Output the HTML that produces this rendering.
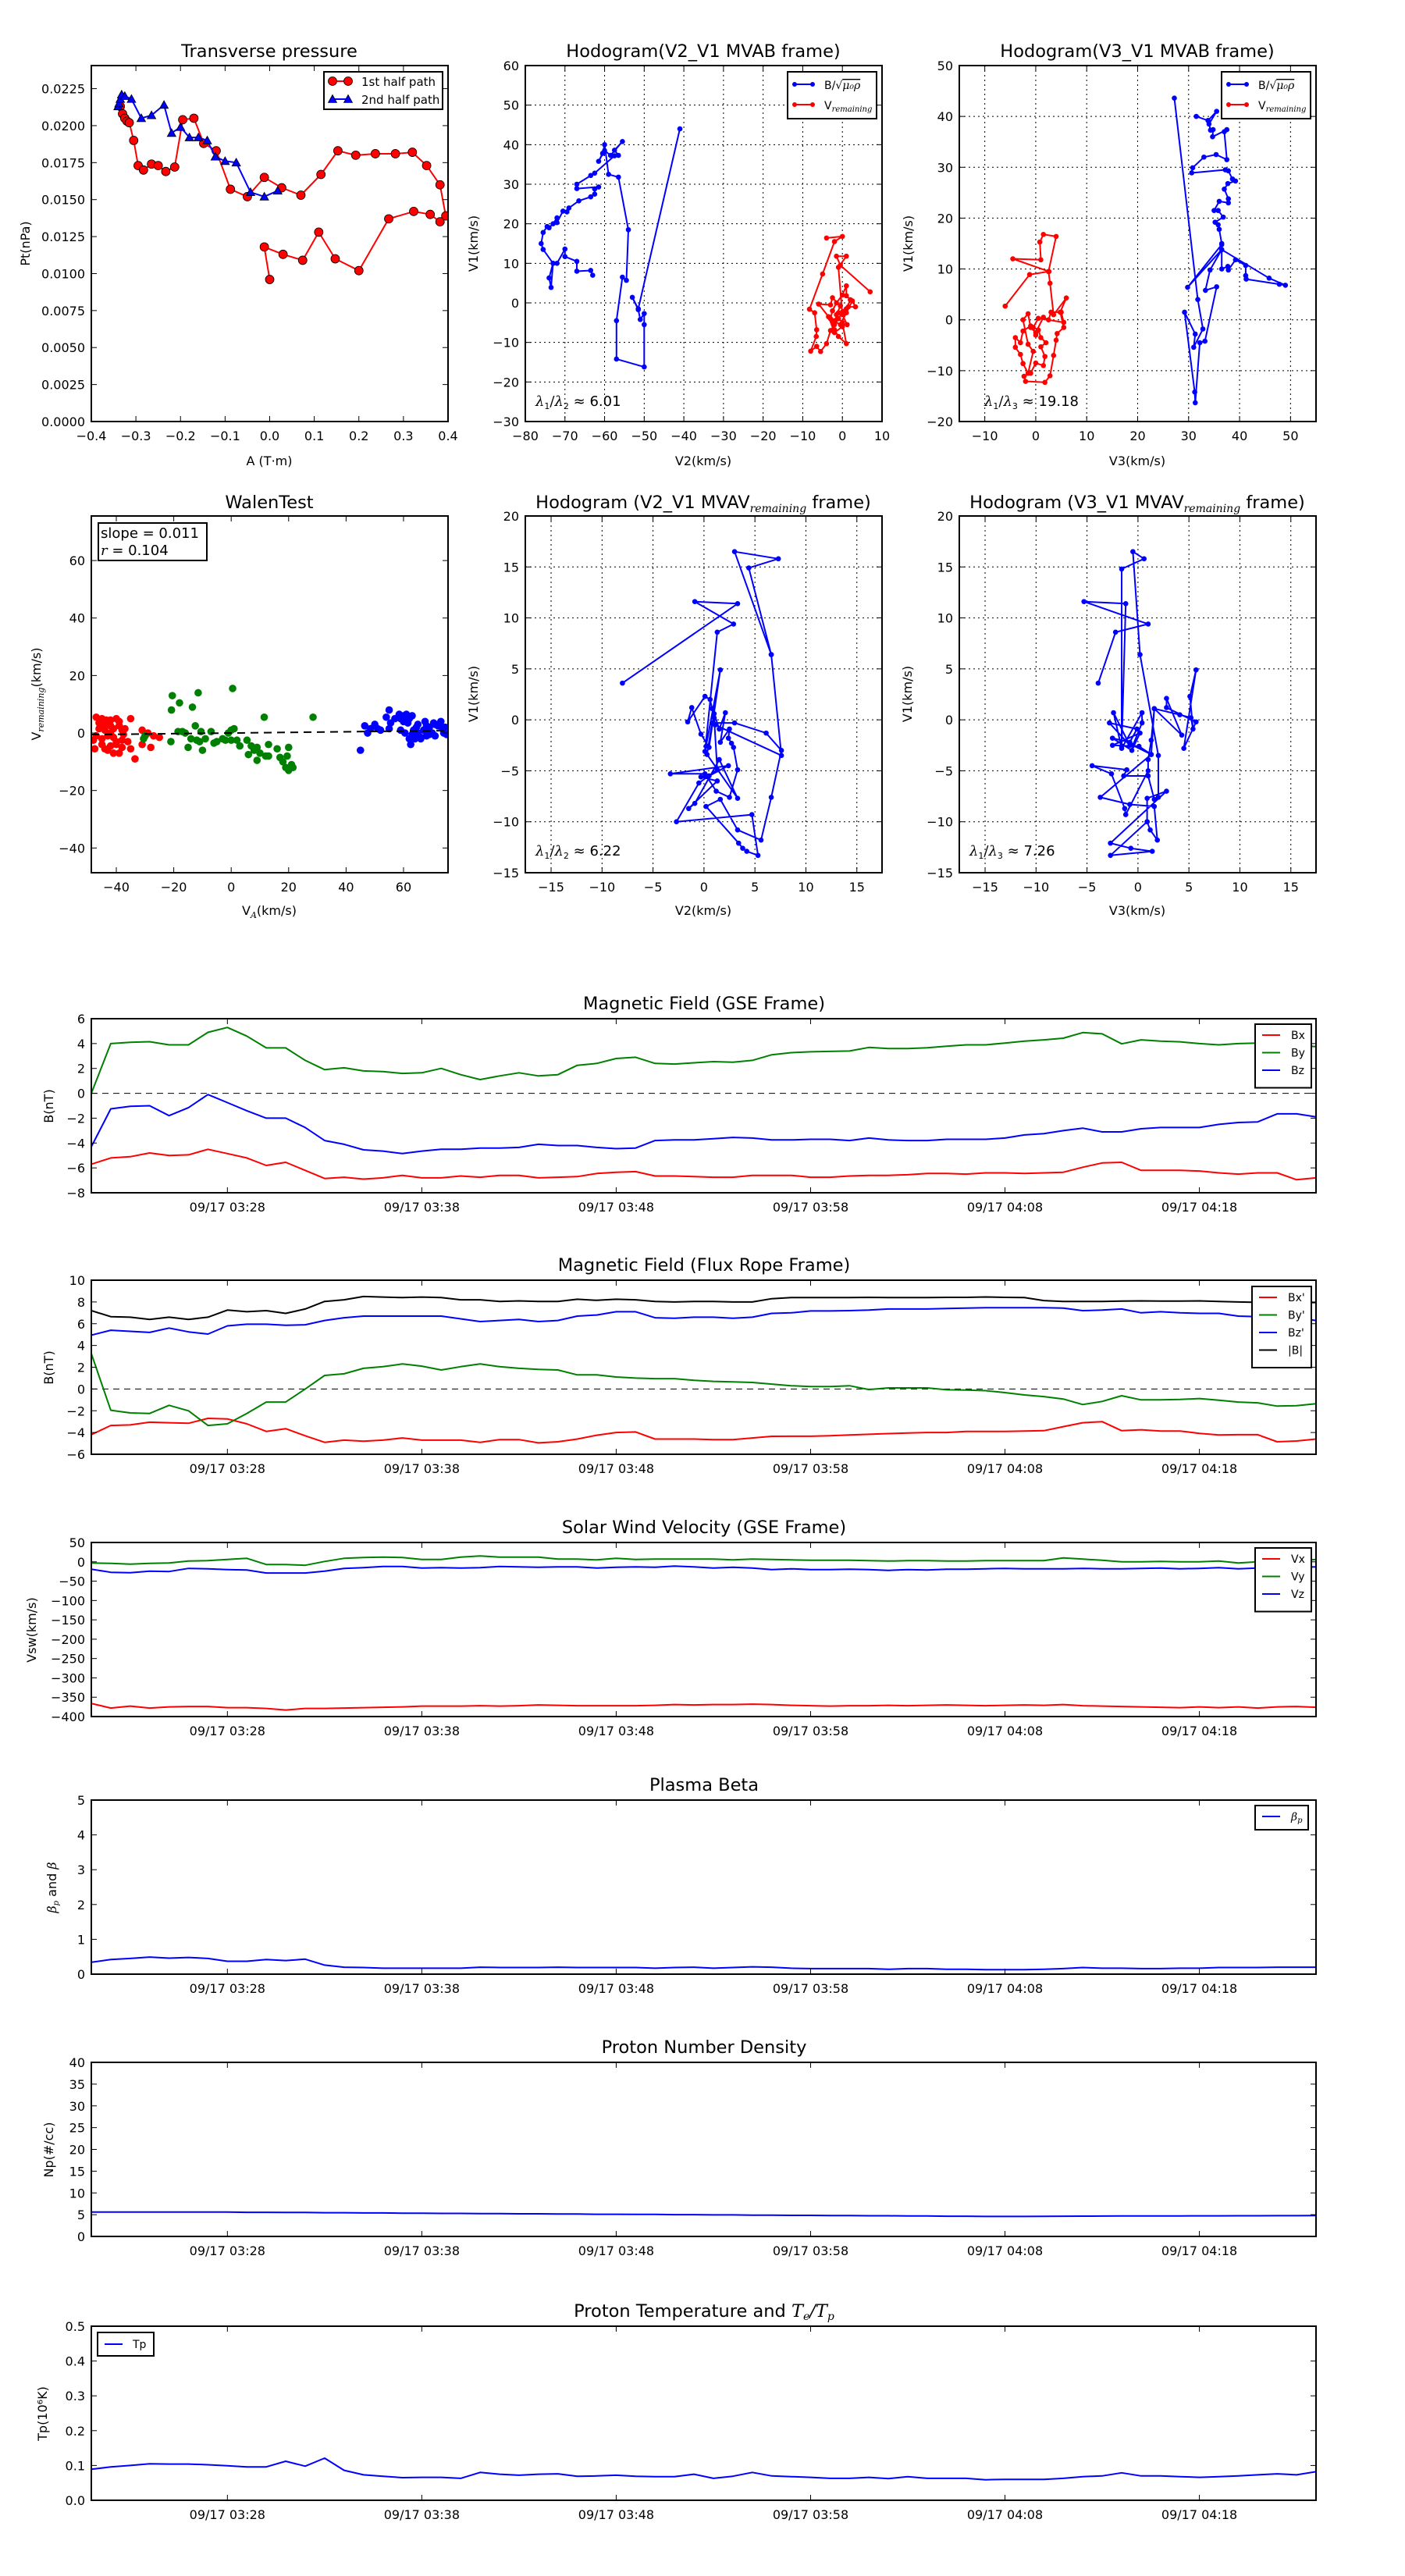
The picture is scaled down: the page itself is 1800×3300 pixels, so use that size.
<!DOCTYPE html>
<html><head><meta charset="utf-8"><title>Flux rope analysis</title>
<style>
html,body{margin:0;padding:0;background:#fff;}
svg{display:block;font-family:"DejaVu Sans","Liberation Sans",sans-serif;}
</style></head>
<body>
<svg id="fig" xmlns="http://www.w3.org/2000/svg" width="1800" height="3300" viewBox="0 0 1800 3300">
<rect x="0" y="0" width="1800" height="3300" fill="#fff"/>
</svg>
<script>
// ---------- data: transverse pressure ----------
const ptRedA = [-0.335,-0.33,-0.325,-0.32,-0.315,-0.305,-0.295,-0.283,-0.265,-0.25,-0.233,-0.213,-0.195,-0.17,-0.148,-0.12,-0.088,-0.05,-0.012,0.027,0.07,0.115,0.153,0.193,0.237,0.282,0.32,0.352,0.382,0.395,0.382,0.36,0.323,0.267,0.2,0.147,0.11,0.074,0.03,-0.012,0.0];
const ptRedP = [0.0213,0.0208,0.0205,0.0203,0.0202,0.019,0.0173,0.017,0.0174,0.0173,0.0169,0.0172,0.0204,0.0205,0.0188,0.0183,0.0157,0.0152,0.0165,0.0158,0.0153,0.0167,0.0183,0.018,0.0181,0.0181,0.0182,0.0173,0.016,0.0139,0.0135,0.014,0.0142,0.0137,0.0102,0.011,0.0128,0.0109,0.0113,0.0118,0.0096];
const ptBlueA = [-0.34,-0.338,-0.335,-0.332,-0.325,-0.31,-0.288,-0.265,-0.237,-0.22,-0.2,-0.18,-0.16,-0.14,-0.122,-0.1,-0.075,-0.043,-0.012,0.018];
const ptBlueP = [0.0213,0.0215,0.0218,0.0221,0.022,0.0218,0.0205,0.0207,0.0214,0.0195,0.0199,0.0192,0.0192,0.019,0.0179,0.0176,0.0175,0.0155,0.0152,0.0156];
const ptXTicks = [-0.4,-0.3,-0.2,-0.1,0,0.1,0.2,0.3,0.4];
const ptXLabels = ['−0.4','−0.3','−0.2','−0.1','0.0','0.1','0.2','0.3','0.4'];
const ptYTicks = [0,0.0025,0.005,0.0075,0.01,0.0125,0.015,0.0175,0.02,0.0225];
const ptYLabels = ['0.0000','0.0025','0.0050','0.0075','0.0100','0.0125','0.0150','0.0175','0.0200','0.0225'];
// ---------- data: hodogram V2-V1 MVAB ----------
const h1BlueV2 = [-63,-63.5,-67,-67,-70,-70,-72,-73,-74,-73.5,-73,-75.5,-76,-75.5,-74.5,-74,-73,-72,-72,-70.5,-69.5,-69,-66.5,-63.5,-62.5,-62.5,-61.5,-67,-67,-63.5,-62.5,-57.5,-56.5,-57.5,-55.5,-58.5,-60,-61.5,-60.5,-60,-59,-56.5,-54,-54.5,-55.5,-57,-57,-50,-50,-50,-51,-51.5,-53,-51.5,-41];
const h1BlueV1 = [7,8.2,8,10.5,11.7,13.6,10,10,6.3,3.9,10,13.5,15,17.8,19.3,19,20,21.5,20.3,23.2,23,24,25.8,26.8,27.5,28.8,29.3,28.9,30,32.2,32.8,37.2,37.3,38.6,40.8,37.3,38.5,35.8,37.8,40,32.5,31.8,18.5,5.7,6.5,-4.5,-14.2,-16.2,-5.5,-2.7,-4.2,-1.7,1.4,-1.5,44];
const h1RedV2 = [-4,0,-2,-5,-8.3,-7,-6.5,-6.6,-8,-6.5,-5.5,-4,-3,-2,-1,0,1,2,1,1,0,-1.5,-2.5,-3,-2,-1,1,0,-1.5,-0.5,-2.5,-3,-6,-3.5,-2,0,-2,-1,1.5,3.3,2.5,1,-0.5,1.2,0,-1,1,-1.5,-0.5,7];
const h1RedV1 = [16.4,16.8,15.5,7.3,-1.6,-2.5,-6.8,-8.5,-12.2,-11,-12.3,-10.3,-7,-5.5,-4,-2.3,-1.5,0.8,1.8,4.3,2,0,-2,-4,-6.8,-8.5,-10.3,-5,-3,-0.8,1.3,-0.5,-0.3,-3.5,-7.5,-6,-4.5,-2.5,-1,-1,0.5,-2.5,-5.5,-5.5,-3,9,11.8,11.8,9.5,2.8];
// ---------- data: hodogram V3-V1 MVAB ----------
const h2BlueV3 = [27.2,31.8,32.8,31,31.3,29.2,31.2,31.3,32.2,33.2,35.5,33.3,34.2,36.5,29.8,36.5,36.5,37.7,37.8,39.2,41.2,41.2,41.3,47.8,49,45.8,36.5,36.5,36,35.8,35.2,36.8,35.8,35,36,37.8,37.8,37,37.7,39.2,38.6,37.8,37.2,30.6,30.8,33,35.4,37.5,37,37.5,34.7,34.8,34.3,34,35.5,33.8,31.5];
const h2BlueV1 = [43.6,4,-1.8,-5.4,-2.8,1.5,-14.2,-16.3,-4.5,-4.2,6.5,5.8,9.8,13.8,6.4,14.8,10,10.5,9.8,11.8,10.7,8.7,8,7,6.8,8.2,13.8,15,17.8,18.7,19.2,20.2,21.5,21.5,23.3,23,23.8,25.7,26.8,27.3,27.7,29.3,29.5,28.9,29.9,32,32.5,31.5,37,37.4,36,37.4,37.3,38.5,41,39.2,40];
const h2RedV3 = [-6,-1.2,2.6,-4.5,1,0.8,1.5,4,2.5,2.8,3.5,6,4.8,5.5,4.2,4,3.5,2.8,1.8,-2,-2.3,-1,0,1.5,1.8,1,2,1,0.5,-1,-2.5,-3,-4,-4,-3,-2.5,-1.5,-0.5,-1.5,-2.5,-1.5,-1,0,1.5,2.5,3,5,5.5,0.5,-0.5,0];
const h2RedV1 = [2.7,8.9,9.5,12,11.8,15.3,16.8,16.4,9.5,7.2,1,4.3,1.5,-1.5,-2.7,-4,-7,-11,-12.3,-12.1,-11.1,-10.5,-8.5,-9,-7.2,-5.3,-4.5,-3.5,-2,-1.2,-2.2,-4.5,-3.5,-5.4,-6.8,-8.6,-10.5,-6.2,-4.8,0,1.2,-1.5,-2.5,0.5,0,1.5,1.5,-0.5,0.3,-1.5,-3];
const h1XTicks = [-80,-70,-60,-50,-40,-30,-20,-10,0,10];
const h1YTicks = [-30,-20,-10,0,10,20,30,40,50,60];
const h2XTicks = [-10,0,10,20,30,40,50];
const h2YTicks = [-20,-10,0,10,20,30,40,50];
// ---------- data: Walen test ----------
const walRedX = [-47,-45,-43.5,-42,-40,-44,-42,-46,-44,-41,-39,-38,-47,-45,-43,-41,-40,-38,-37.5,-48,-47.5,-45,-42,-41,-39,-38,-36,-35,-35,-33.5,-31,-31,-30,-29,-28,-27,-25,-44,-43,-40,-46,-39,-37,-42];
const walRedY = [5.5,5,4.5,4.5,5,3,2.5,1.5,1,1.5,2.5,1,-1,-2,-1,-1.5,-3,-2.5,-0.5,-2.5,-5.5,-4,-4.5,-7,-7,-5,-3,5,-5.5,-9,-4,1,-1,0,-5,-1,-1.5,-5.5,-6,-4,3.5,4,1.5,0];
const walGreenX = [-20.5,-20.8,-18,-13.5,-11.5,0.5,-21,-18.5,-17,-16,-15,-14,-12.5,-12,-11,-10.5,-10,-9,-7,-6,-5,-3,-2,-1,0,0,1,2,3,5.5,6,7,8,9,9,10,11.5,12,13,13,16,17,18,19,19.5,20,20,21,21.5,28.5,-30,-30.5];
const walGreenY = [13,8,10.5,9,14,15.5,-3,0.5,0.5,0,-5,-2,2.5,-2.5,-3,0.5,-6,-2,0.5,-3.5,-3,-2,-2.5,0,-2.5,1,1.5,-2.5,-4.5,-2.5,-7.5,-4.5,-6,-9.5,-5,-7,5.5,-8,-4,-8,-5.5,-8.5,-10,-12,-8,-5,-13,-11,-12,5.5,-1,-2];
const walBlueX = [45,46.5,47.5,48.5,50,51,52,54,55,55.5,55,58.5,59,60,60.5,61,61.5,62,62.5,63,63.5,64,64.5,65,66,67,67.5,68,69,70,70.5,71,72,73,73.5,74,75,60,62,65,66,68,71,74.5,63,59,57,69];
const walBlueY = [-6,2.5,0,1.5,3,1.5,1,5.5,8,3.5,1.5,6.5,5,4,0,6.5,3.5,-2,-4,6,1,-2,2,0,-1.5,1,4,-1,2,0,3.5,-1,2.5,4,1.5,0,-0.5,6,5,3,-2,2.5,3,2,-0.5,1,5,-0.5];
const walSlope = [0.011];
const walTicks = [-40,-20,0,20,40,60];
// ---------- data: hodograms MVAV ----------
const h3V2 = [-8,3.3,-0.9,2.9,1.3,0.1,0.2,1.6,0.5,-0.3,-1.2,-1.6,0.1,0.6,0.8,1.0,1.5,2.1,1.6,2.5,2.4,2.7,2.9,3.3,2.5,1.2,0.1,-3.3,2.4,0.5,-0.3,1.3,-1.5,-0.9,1.5,3.3,0.3,0.8,3.0,6.1,7.6,6.6,5.6,3.3,1.6,0.2,3.4,3.8,4.2,5.3,4.7,-2.7,-0.5,1.3,1.0,1.1,7.6,6.6,4.4,7.3,3.0,6.6];
const h3V1 = [3.6,11.4,11.6,9.4,8.6,-3.1,-2.6,4.9,-2.7,-1.4,1.2,-0.2,2.3,2.0,1.1,0.6,-0.9,0.7,-2.2,-0.9,-1.8,-2.3,-2.7,-4.9,-7.6,-7,-5.3,-5.3,-4.5,-5.5,-5.6,-6,-8.7,-8.2,-3.9,-7.7,-3.4,-0.3,-0.3,-1.3,-3.0,-7.6,-11.8,-10.8,-7.8,-8.5,-12.1,-12.6,-12.9,-13.3,-9.3,-10,-6.2,-4.9,0.2,-0.5,-3.5,6.4,14.9,15.8,16.5,6.4];
const h4V3 = [-3.9,-2.2,1.0,-5.3,-1.2,-1.6,-1.6,0.6,-0.5,0.2,2.0,2.0,1.6,1.0,-1.4,-1.1,-4.5,-2.6,-1.3,-1.2,1.0,1.0,1.3,1.6,4.1,5.2,5.4,5.1,5.7,4.5,5.7,2.8,2.8,4.3,1.6,1.3,-0.5,0.4,0.4,-1.6,-2.4,-0.8,-2.8,-0.1,-0.8,-2.5,-0.6,0.2,-2.5,0.1,1.3,-3.7,-0.8,1.6,1.9,1.2,0.9,0.9,2.8,-2.7,-0.7,1.4,-2.7,0.9];
const h4V1 = [3.6,8.6,9.4,11.6,11.4,-2.6,14.8,15.8,16.5,6.4,-3.5,-7.6,-7.8,-5.5,-5.5,-4.9,-4.5,-5.3,-8.7,-9.3,-5.0,-3.9,-2.0,1.1,0.5,0.2,-0.9,2.3,4.9,-2.8,-0.2,1.2,2.1,-1.5,1.1,-3.4,-2.5,-0.3,0.7,-2.8,0.7,-2.5,-0.3,-0.9,-2.2,-1.8,-3,-1.3,-2.5,-2.6,-3.4,-7.6,-8.3,-8.5,-11.8,-10.8,-10,-7.7,-7,-12.1,-12.6,-12.9,-13.3,-10];
const mvavTicksX = [-15,-10,-5,0,5,10,15];
const mvavTicksY = [-15,-10,-5,0,5,10,15,20];
// ---------- data: time series (one value per minute from 03:21) ----------
const timeTicks = [7,17,27,37,47,57];
const timeLabels = ['09/17 03:28','09/17 03:38','09/17 03:48','09/17 03:58','09/17 04:08','09/17 04:18'];
const gseBx = [-5.7,-5.2,-5.1,-4.8,-5.0,-4.95,-4.5,-4.85,-5.2,-5.8,-5.55,-6.2,-6.85,-6.75,-6.9,-6.8,-6.6,-6.8,-6.8,-6.65,-6.75,-6.6,-6.6,-6.8,-6.75,-6.7,-6.45,-6.35,-6.3,-6.65,-6.65,-6.7,-6.75,-6.75,-6.6,-6.6,-6.6,-6.75,-6.75,-6.65,-6.6,-6.6,-6.55,-6.45,-6.45,-6.5,-6.4,-6.4,-6.45,-6.4,-6.35,-5.95,-5.6,-5.55,-6.2,-6.2,-6.2,-6.25,-6.4,-6.5,-6.4,-6.4,-6.95,-6.8];
const gseBy = [0,4.0,4.1,4.15,3.9,3.9,4.9,5.3,4.6,3.65,3.65,2.65,1.9,2.05,1.8,1.75,1.6,1.65,2.0,1.5,1.1,1.4,1.65,1.4,1.5,2.25,2.4,2.8,2.9,2.4,2.35,2.45,2.55,2.5,2.65,3.1,3.27,3.34,3.37,3.4,3.69,3.6,3.6,3.66,3.79,3.9,3.9,4.04,4.2,4.3,4.43,4.88,4.78,3.98,4.3,4.2,4.14,4.0,3.9,4.0,4.04,4.04,3.85,3.75];
const gseBz = [-4.3,-1.25,-1.05,-1.0,-1.8,-1.15,-0.1,-0.75,-1.4,-2.0,-2.0,-2.75,-3.8,-4.1,-4.55,-4.65,-4.85,-4.65,-4.5,-4.5,-4.4,-4.4,-4.35,-4.1,-4.2,-4.2,-4.35,-4.45,-4.4,-3.8,-3.75,-3.75,-3.65,-3.55,-3.6,-3.75,-3.75,-3.7,-3.7,-3.8,-3.6,-3.75,-3.8,-3.8,-3.7,-3.7,-3.7,-3.6,-3.35,-3.25,-3.0,-2.8,-3.1,-3.1,-2.85,-2.75,-2.75,-2.75,-2.5,-2.35,-2.3,-1.65,-1.65,-1.9];
const frBx = [-4.2,-3.35,-3.3,-3.05,-3.1,-3.15,-2.7,-2.75,-3.2,-3.9,-3.65,-4.3,-4.9,-4.7,-4.8,-4.7,-4.5,-4.7,-4.7,-4.7,-4.9,-4.65,-4.65,-4.95,-4.85,-4.6,-4.25,-4.0,-3.95,-4.6,-4.6,-4.6,-4.65,-4.65,-4.5,-4.35,-4.34,-4.34,-4.3,-4.23,-4.16,-4.1,-4.05,-4.0,-4.0,-3.9,-3.9,-3.9,-3.86,-3.83,-3.46,-3.1,-3.0,-3.83,-3.75,-3.86,-3.86,-4.08,-4.23,-4.2,-4.2,-4.85,-4.78,-4.6];
const frBy = [3.25,-1.95,-2.2,-2.25,-1.5,-2.0,-3.35,-3.2,-2.25,-1.2,-1.2,0.0,1.25,1.4,1.9,2.05,2.3,2.1,1.75,2.05,2.3,2.05,1.9,1.8,1.75,1.3,1.3,1.1,1.0,0.95,0.95,0.8,0.7,0.65,0.6,0.45,0.3,0.22,0.22,0.3,-0.05,0.1,0.1,0.1,-0.07,-0.1,-0.15,-0.33,-0.55,-0.7,-0.92,-1.43,-1.14,-0.62,-1.0,-1.0,-0.96,-0.88,-1.03,-1.2,-1.27,-1.57,-1.53,-1.36];
const frBz = [4.95,5.4,5.3,5.2,5.6,5.25,5.05,5.8,5.95,5.95,5.85,5.9,6.3,6.55,6.7,6.7,6.7,6.7,6.7,6.45,6.2,6.3,6.4,6.2,6.3,6.7,6.8,7.1,7.1,6.55,6.5,6.6,6.6,6.5,6.6,6.95,7.0,7.17,7.17,7.2,7.25,7.35,7.35,7.35,7.4,7.43,7.47,7.47,7.47,7.47,7.43,7.2,7.25,7.35,7.0,7.1,7.0,6.95,6.95,6.7,6.65,6.6,6.55,6.3];
const frBt = [7.2,6.65,6.6,6.4,6.6,6.4,6.6,7.25,7.1,7.2,6.95,7.35,8.05,8.2,8.5,8.45,8.4,8.45,8.4,8.2,8.2,8.05,8.1,8.05,8.05,8.25,8.15,8.25,8.2,8.05,8.0,8.05,8.05,8.0,8.0,8.3,8.4,8.4,8.4,8.4,8.42,8.4,8.4,8.4,8.42,8.42,8.46,8.42,8.4,8.13,8.05,8.05,8.05,8.08,8.1,8.08,8.08,8.1,8.05,8.0,7.96,7.95,7.95,7.95];
const swVx = [-366,-378,-373,-378,-375,-374,-374,-377,-377,-379,-383,-379,-379,-378,-377,-376,-375,-373,-373,-373,-372,-373,-372,-370,-371,-372,-372,-372,-372,-371,-369,-370,-369,-369,-368,-369,-371,-372,-373,-372,-372,-371,-372,-371,-370,-371,-372,-371,-370,-371,-369,-372,-373,-374,-375,-376,-377,-375,-377,-375,-378,-375,-374,-376];
const swVy = [-3,-4,-6,-4,-3,2,3,6,9,-7,-7,-9,1,9,11,12,11,6,6,12,15,12,12,12,7,7,5,9,6,7,7,7,7,5,7,6,5,4,4,4,3,2,3,3,2,2,3,3,3,3,10,7,4,0,0,1,0,0,2,-3,0,2,2,6];
const swVz = [-19,-27,-28,-24,-25,-17,-18,-20,-21,-29,-29,-29,-24,-17,-15,-12,-12,-16,-15,-16,-15,-12,-13,-14,-13,-13,-16,-14,-13,-14,-11,-13,-16,-14,-16,-20,-18,-20,-20,-19,-20,-22,-20,-21,-19,-19,-18,-17,-18,-18,-18,-17,-18,-18,-17,-16,-18,-17,-15,-18,-16,-15,-14,-13];
const betaP = [0.34,0.42,0.45,0.49,0.46,0.48,0.45,0.37,0.37,0.42,0.39,0.43,0.26,0.2,0.19,0.17,0.17,0.17,0.17,0.17,0.2,0.19,0.19,0.19,0.2,0.19,0.19,0.19,0.19,0.17,0.19,0.2,0.17,0.19,0.21,0.2,0.17,0.16,0.16,0.16,0.16,0.14,0.16,0.16,0.14,0.14,0.13,0.13,0.13,0.14,0.16,0.19,0.17,0.17,0.16,0.16,0.17,0.17,0.19,0.19,0.19,0.2,0.2,0.2];
const densNp = [5.6,5.6,5.6,5.6,5.6,5.6,5.6,5.6,5.55,5.55,5.5,5.5,5.45,5.45,5.4,5.4,5.35,5.35,5.3,5.3,5.25,5.25,5.2,5.2,5.15,5.15,5.1,5.1,5.05,5.05,5.0,5.0,4.95,4.95,4.9,4.9,4.85,4.85,4.8,4.8,4.75,4.75,4.7,4.7,4.65,4.65,4.6,4.6,4.6,4.62,4.64,4.66,4.68,4.7,4.7,4.72,4.72,4.74,4.74,4.75,4.76,4.77,4.78,4.8];
const tempTp = [0.089,0.096,0.1,0.105,0.104,0.104,0.102,0.099,0.096,0.096,0.112,0.098,0.121,0.086,0.073,0.069,0.065,0.066,0.066,0.063,0.08,0.075,0.072,0.075,0.076,0.069,0.07,0.072,0.069,0.068,0.068,0.075,0.063,0.069,0.08,0.07,0.068,0.066,0.063,0.063,0.066,0.062,0.068,0.063,0.063,0.063,0.059,0.06,0.06,0.06,0.063,0.068,0.07,0.079,0.07,0.07,0.068,0.066,0.068,0.07,0.073,0.076,0.073,0.082];

// ---------- drawing helpers ----------
const NS = 'http://www.w3.org/2000/svg';
const svg = document.getElementById('fig');
let clipId = 0;
function el(tag, attrs, parent, name) {
  const e = document.createElementNS(NS, tag);
  for (const k in attrs) e.setAttribute(k, attrs[k]);
  
  
  parent.appendChild(e);
  return e;
}
function txt(parent, x, y, html, size, anchor, name, extra) {
  const t = el('text', Object.assign({x: x, y: y, 'font-size': size, 'text-anchor': anchor || 'start', fill: '#000'}, extra || {}), parent, name);
  t.innerHTML = html;
  return t;
}
function makeAxes(name, X, Y, W, H, xd, yd) {
  const g = el('g', {}, svg, name);
  const id = 'clip' + (clipId++);
  const cp = el('clipPath', {id: id}, g, name + '-clip');
  el('rect', {x: X, y: Y, width: W, height: H}, cp, name + '-clip-rect');
  const plot = el('g', {'clip-path': 'url(#' + id + ')'}, g, name + '-plot-area');
  return {g: g, plot: plot, X: X, Y: Y, W: W, H: H, name: name,
    sx: v => X + (v - xd[0]) / (xd[1] - xd[0]) * W,
    sy: v => Y + H - (v - yd[0]) / (yd[1] - yd[0]) * H};
}
function frame(ax) {
  el('rect', {x: ax.X, y: ax.Y, width: ax.W, height: ax.H, fill: 'none', stroke: '#000', 'stroke-width': 2}, ax.g, ax.name + '-frame');
}
function xTicks(ax, vals, labels, size, off) {
  const tg = el('g', {}, ax.g, ax.name + '-x-ticks');
  vals.forEach((v, i) => {
    const x = ax.sx(v);
    el('line', {x1: x, x2: x, y1: ax.Y + ax.H, y2: ax.Y + ax.H - 7, stroke: '#000', 'stroke-width': 1}, tg, 'x-tick');
    el('line', {x1: x, x2: x, y1: ax.Y, y2: ax.Y + 7, stroke: '#000', 'stroke-width': 1}, tg, 'x-tick-top');
    txt(tg, x, ax.Y + ax.H + (off || 24), labels[i], size || 16, 'middle', 'x-tick-label');
  });
}
function yTicks(ax, vals, labels, size) {
  const tg = el('g', {}, ax.g, ax.name + '-y-ticks');
  vals.forEach((v, i) => {
    const y = ax.sy(v);
    el('line', {x1: ax.X, x2: ax.X + 7, y1: y, y2: y, stroke: '#000', 'stroke-width': 1}, tg, 'y-tick');
    el('line', {x1: ax.X + ax.W, x2: ax.X + ax.W - 7, y1: y, y2: y, stroke: '#000', 'stroke-width': 1}, tg, 'y-tick-right');
    txt(tg, ax.X - 8, y + 6, labels[i], size || 16, 'end', 'y-tick-label');
  });
}
function grid(ax, xv, yv) {
  const gg = el('g', {}, ax.plot, ax.name + '-grid');
  xv.forEach(v => el('line', {x1: ax.sx(v), x2: ax.sx(v), y1: ax.Y, y2: ax.Y + ax.H, stroke: '#000', 'stroke-width': 1, 'stroke-dasharray': '2,4'}, gg, 'grid-line-x'));
  yv.forEach(v => el('line', {x1: ax.X, x2: ax.X + ax.W, y1: ax.sy(v), y2: ax.sy(v), stroke: '#000', 'stroke-width': 1, 'stroke-dasharray': '2,4'}, gg, 'grid-line-y'));
}
function series(ax, xs, ys, color, name, width, marker, r) {
  const sg = el('g', {}, ax.plot, name);
  const pts = xs.map((x, i) => ax.sx(x).toFixed(1) + ',' + ax.sy(ys[i]).toFixed(1)).join(' ');
  el('polyline', {points: pts, fill: 'none', stroke: color, 'stroke-width': width, 'stroke-linejoin': 'round'}, sg, name + '-line');
  xs.forEach((x, i) => {
    const px = ax.sx(x), py = ax.sy(ys[i]);
    if (marker === 'circle') el('circle', {cx: px, cy: py, r: r, fill: color, stroke: '#000', 'stroke-width': 0.8}, sg, name + '-marker');
    else if (marker === 'dot') el('circle', {cx: px, cy: py, r: r, fill: color}, sg, name + '-point');
    else if (marker === 'tri') el('polygon', {points: `${px},${py - r} ${px - r},${py + r * 0.8} ${px + r},${py + r * 0.8}`, fill: color, stroke: '#000', 'stroke-width': 0.8}, sg, name + '-marker');
  });
}
function scatter(ax, xs, ys, color, name, r) {
  const sg = el('g', {}, ax.plot, name);
  xs.forEach((x, i) => el('circle', {cx: ax.sx(x), cy: ax.sy(ys[i]), r: r, fill: color}, sg, name + '-point'));
}
function ylabel(parent, x, y, html, size, name) {
  return txt(parent, x, y, html, size || 16, 'middle', name, {transform: `rotate(-90 ${x} ${y})`});
}
function box(parent, x, y, w, h, name) {
  el('rect', {x: x, y: y, width: w, height: h, fill: '#fff', stroke: '#000', 'stroke-width': 2}, parent, name);
}
const fmt = v => (v < 0 ? '−' : '') + Math.abs(v);
const SUB = s => `<tspan font-size="12" baseline-shift="-4" font-style="italic" font-family="DejaVu Serif, serif">${s}</tspan>`;

// ---------- Panel 1: transverse pressure ----------
{
  const ax = makeAxes('transverse-pressure-chart', 117, 84, 457, 456, [-0.4, 0.4], [0, 0.02406]);
  txt(ax.g, 345, 73, 'Transverse pressure', 22.5, 'middle', 'chart-title');
  series(ax, ptRedA, ptRedP, '#ff0000', 'series-1st-half-path', 2, 'circle', 5.5);
  series(ax, ptBlueA, ptBlueP, '#0000ff', 'series-2nd-half-path', 2, 'tri', 5.5);
  frame(ax);
  xTicks(ax, ptXTicks, ptXLabels);
  yTicks(ax, ptYTicks, ptYLabels);
  txt(ax.g, 345, 596, 'A (T·m)', 16, 'middle', 'x-axis-title');
  ylabel(ax.g, 38, 312, 'Pt(nPa)', 16, 'y-axis-title');
  const lg = el('g', {}, ax.g, 'legend');
  box(lg, 415, 92, 152, 48, 'legend-box');
  el('line', {x1: 426, x2: 446, y1: 104, y2: 104, stroke: '#ff0000', 'stroke-width': 2}, lg, 'legend-line-1st');
  el('circle', {cx: 426, cy: 104, r: 5.5, fill: '#ff0000', stroke: '#000', 'stroke-width': 0.8}, lg, 'legend-marker-1st');
  el('circle', {cx: 446, cy: 104, r: 5.5, fill: '#ff0000', stroke: '#000', 'stroke-width': 0.8}, lg, 'legend-marker-1st');
  txt(lg, 463, 110, '1st half path', 15, 'start', 'legend-entry-1st-half');
  el('line', {x1: 426, x2: 446, y1: 127, y2: 127, stroke: '#0000ff', 'stroke-width': 2}, lg, 'legend-line-2nd');
  el('polygon', {points: '426,121.5 420.5,131.4 431.5,131.4', fill: '#0000ff', stroke: '#000', 'stroke-width': 0.8}, lg, 'legend-marker-2nd');
  el('polygon', {points: '446,121.5 440.5,131.4 451.5,131.4', fill: '#0000ff', stroke: '#000', 'stroke-width': 0.8}, lg, 'legend-marker-2nd');
  txt(lg, 463, 133, '2nd half path', 15, 'start', 'legend-entry-2nd-half');
}
// hodogram legend helper
function hodoLegend(ax, x, name) {
  const lg = el('g', {}, ax.g, name);
  box(lg, x, 92, 114, 60, 'legend-box');
  el('line', {x1: x + 9, x2: x + 32, y1: 108, y2: 108, stroke: '#0000ff', 'stroke-width': 2}, lg, 'legend-line-b');
  el('circle', {cx: x + 9, cy: 108, r: 3, fill: '#0000ff'}, lg, 'legend-marker-b');
  el('circle', {cx: x + 32, cy: 108, r: 3, fill: '#0000ff'}, lg, 'legend-marker-b');
  txt(lg, x + 47, 114, 'B/√<tspan font-style="italic" font-family="DejaVu Serif, serif" text-decoration="overline">μ₀ρ</tspan>', 14, 'start', 'legend-entry-alfven-velocity');
  el('line', {x1: x + 9, x2: x + 32, y1: 134, y2: 134, stroke: '#ff0000', 'stroke-width': 2}, lg, 'legend-line-v');
  el('circle', {cx: x + 9, cy: 134, r: 3, fill: '#ff0000'}, lg, 'legend-marker-v');
  el('circle', {cx: x + 32, cy: 134, r: 3, fill: '#ff0000'}, lg, 'legend-marker-v');
  txt(lg, x + 47, 140, 'V<tspan font-size="10" baseline-shift="-3" font-style="italic" font-family="DejaVu Serif, serif">remaining</tspan>', 14, 'start', 'legend-entry-v-remaining');
}
const LAMBDA = (a, b, v) => `<tspan font-style="italic" font-family="DejaVu Serif, serif">λ</tspan><tspan font-size="11" baseline-shift="-4">${a}</tspan><tspan font-family="DejaVu Serif, serif">/</tspan><tspan font-style="italic" font-family="DejaVu Serif, serif">λ</tspan><tspan font-size="11" baseline-shift="-4">${b}</tspan> ≈ ${v}`;
// ---------- Panel 2: hodogram V2-V1 MVAB ----------
{
  const ax = makeAxes('hodogram-v2-v1-mvab', 673, 84, 457, 456, [-80, 10], [-30, 60]);
  txt(ax.g, 901, 73, 'Hodogram(V2_V1 MVAB frame)', 22.5, 'middle', 'chart-title');
  grid(ax, h1XTicks, h1YTicks);
  series(ax, h1BlueV2, h1BlueV1, '#0000ff', 'series-alfven-velocity', 2, 'dot', 3.3);
  series(ax, h1RedV2, h1RedV1, '#ff0000', 'series-v-remaining', 2, 'dot', 3.3);
  frame(ax);
  xTicks(ax, h1XTicks, h1XTicks.map(fmt));
  yTicks(ax, h1YTicks, h1YTicks.map(fmt));
  txt(ax.g, 901, 596, 'V2(km/s)', 16, 'middle', 'x-axis-title');
  ylabel(ax.g, 612, 312, 'V1(km/s)', 16, 'y-axis-title');
  hodoLegend(ax, 1009, 'legend');
  txt(ax.g, 686, 520, LAMBDA(1, 2, '6.01'), 18, 'start', 'eigenvalue-ratio-annotation');
}
// ---------- Panel 3: hodogram V3-V1 MVAB ----------
{
  const ax = makeAxes('hodogram-v3-v1-mvab', 1229, 84, 457, 456, [-15, 55], [-20, 50]);
  txt(ax.g, 1457, 73, 'Hodogram(V3_V1 MVAB frame)', 22.5, 'middle', 'chart-title');
  grid(ax, h2XTicks, h2YTicks);
  series(ax, h2BlueV3, h2BlueV1, '#0000ff', 'series-alfven-velocity', 2, 'dot', 3.3);
  series(ax, h2RedV3, h2RedV1, '#ff0000', 'series-v-remaining', 2, 'dot', 3.3);
  frame(ax);
  xTicks(ax, h2XTicks, h2XTicks.map(fmt));
  yTicks(ax, h2YTicks, h2YTicks.map(fmt));
  txt(ax.g, 1457, 596, 'V3(km/s)', 16, 'middle', 'x-axis-title');
  ylabel(ax.g, 1169, 312, 'V1(km/s)', 16, 'y-axis-title');
  hodoLegend(ax, 1565, 'legend');
  txt(ax.g, 1261, 520, LAMBDA(1, 3, '19.18'), 18, 'start', 'eigenvalue-ratio-annotation');
}
// ---------- Panel 4: Walen test ----------
{
  const ax = makeAxes('walen-test-chart', 117, 661, 457, 457, [-48.7, 75.5], [-48.6, 75.5]);
  txt(ax.g, 345, 651, 'WalenTest', 22.5, 'middle', 'chart-title');
  scatter(ax, walRedX, walRedY, '#ff0000', 'scatter-red-segment', 4.8);
  scatter(ax, walGreenX, walGreenY, '#008000', 'scatter-green-segment', 4.8);
  scatter(ax, walBlueX, walBlueY, '#0000ff', 'scatter-blue-segment', 4.8);
  el('line', {x1: ax.sx(-48.7), x2: ax.sx(75.5), y1: ax.sy(-48.7 * walSlope[0]), y2: ax.sy(75.5 * walSlope[0]), stroke: '#000', 'stroke-width': 2, 'stroke-dasharray': '10,7'}, ax.plot, 'fit-line');
  frame(ax);
  xTicks(ax, walTicks, walTicks.map(fmt));
  yTicks(ax, walTicks, walTicks.map(fmt));
  txt(ax.g, 345, 1172, 'V<tspan font-size="11" baseline-shift="-4" font-style="italic" font-family="DejaVu Serif, serif">A</tspan>(km/s)', 16, 'middle', 'x-axis-title');
  ylabel(ax.g, 52, 889, 'V<tspan font-size="11" baseline-shift="-4" font-style="italic" font-family="DejaVu Serif, serif">remaining</tspan>(km/s)', 16, 'y-axis-title');
  const bg = el('g', {}, ax.g, 'stats-box');
  box(bg, 126, 670, 139, 48, 'stats-box-frame');
  txt(bg, 129, 689, 'slope = 0.011', 18, 'start', 'slope-text');
  txt(bg, 129, 711, '<tspan font-style="italic" font-family="DejaVu Serif, serif">r</tspan> = 0.104', 18, 'start', 'correlation-text');
}
// ---------- Panel 5/6: hodograms MVAV ----------
function mvav(name, X, xs, ys, axisLabel, lamB, lamV) {
  const ax = makeAxes(name, X, 661, 457, 457, [-17.53, 17.47], [-15, 20]);
  txt(ax.g, X + 228, 651, `Hodogram (${axisLabel}_V1 MVAV<tspan font-size="14" baseline-shift="-5" font-style="italic" font-family="DejaVu Serif, serif">remaining</tspan> frame)`, 22.5, 'middle', 'chart-title');
  grid(ax, mvavTicksX, mvavTicksY);
  series(ax, xs, ys, '#0000ff', 'series-alfven-velocity', 2, 'dot', 3.3);
  frame(ax);
  xTicks(ax, mvavTicksX, mvavTicksX.map(fmt));
  yTicks(ax, mvavTicksY, mvavTicksY.map(fmt));
  txt(ax.g, X + 228, 1172, axisLabel + '(km/s)', 16, 'middle', 'x-axis-title');
  ylabel(ax.g, X - 61, 889, 'V1(km/s)', 16, 'y-axis-title');
  txt(ax.g, X + 13, 1096, LAMBDA(1, lamB, lamV), 18, 'start', 'eigenvalue-ratio-annotation');
}
mvav('hodogram-v2-v1-mvav', 673, h3V2, h3V1, 'V2', 2, '6.22');
mvav('hodogram-v3-v1-mvav', 1229, h4V3, h4V1, 'V3', 3, '7.26');

// ---------- time series ----------
function tsPanel(name, top, yd, yt, ylab, title, ylx) {
  const ax = makeAxes(name, 117, top, 1569, 223, [0, 63], yd);
  txt(ax.g, 902, top - 12, title, 22.5, 'middle', 'chart-title');
  xTicks(ax, timeTicks, timeLabels, 16, 24);
  yTicks(ax, yt, yt.map(v => (v < 0 ? '−' : '') + (yd[1] <= 1 ? Math.abs(v).toFixed(1) : Math.abs(v))), 16);
  ylabel(ax.g, ylx, top + 112, ylab, 16, 'y-axis-title');
  return ax;
}
const idx = gseBx.map((_, i) => i);
function tsLine(ax, ys, color, name) {
  const t = ys.map((_, i) => i);
  series(ax, t, ys, color, name, 2, null, 0);
}
function zeroLine(ax) {
  el('line', {x1: ax.X, x2: ax.X + ax.W, y1: ax.sy(0), y2: ax.sy(0), stroke: '#000', 'stroke-width': 1, 'stroke-dasharray': '8,6'}, ax.plot, 'zero-line');
}
function tsLegend(ax, x, y, w, entries, name) {
  const lg = el('g', {}, ax.g, name);
  box(lg, x, y, w, 14 + entries.length * 22.5, 'legend-box');
  entries.forEach((e, i) => {
    const yy = y + 14 + i * 22.5;
    el('line', {x1: x + 9, x2: x + 32, y1: yy, y2: yy, stroke: e[1], 'stroke-width': 2}, lg, 'legend-line');
    txt(lg, x + 46, yy + 5, e[0], 14, 'start', 'legend-entry-' + e[2]);
  });
}
{
  const ax = tsPanel('magnetic-field-gse-chart', 1305, [-8, 6], [-8, -6, -4, -2, 0, 2, 4, 6], 'B(nT)', 'Magnetic Field (GSE Frame)', 68);
  zeroLine(ax);
  tsLine(ax, gseBx, '#ff0000', 'series-bx');
  tsLine(ax, gseBy, '#008000', 'series-by');
  tsLine(ax, gseBz, '#0000ff', 'series-bz');
  frame(ax);
  tsLegend(ax, 1608, 1312, 72, [['Bx', '#ff0000', 'bx'], ['By', '#008000', 'by'], ['Bz', '#0000ff', 'bz']], 'legend');
}
{
  const ax = tsPanel('magnetic-field-flux-rope-chart', 1640, [-6, 10], [-6, -4, -2, 0, 2, 4, 6, 8, 10], 'B(nT)', 'Magnetic Field (Flux Rope Frame)', 68);
  zeroLine(ax);
  tsLine(ax, frBx, '#ff0000', 'series-bx-prime');
  tsLine(ax, frBy, '#008000', 'series-by-prime');
  tsLine(ax, frBz, '#0000ff', 'series-bz-prime');
  tsLine(ax, frBt, '#000000', 'series-b-magnitude');
  frame(ax);
  tsLegend(ax, 1604, 1648, 76, [["Bx'", '#ff0000', 'bx-prime'], ["By'", '#008000', 'by-prime'], ["Bz'", '#0000ff', 'bz-prime'], ['|B|', '#000000', 'b-magnitude']], 'legend');
}
{
  const ax = tsPanel('solar-wind-velocity-chart', 1976, [-400, 50], [-400, -350, -300, -250, -200, -150, -100, -50, 0, 50], 'Vsw(km/s)', 'Solar Wind Velocity (GSE Frame)', 46);
  tsLine(ax, swVx, '#ff0000', 'series-vx');
  tsLine(ax, swVy, '#008000', 'series-vy');
  tsLine(ax, swVz, '#0000ff', 'series-vz');
  frame(ax);
  tsLegend(ax, 1608, 1983, 72, [['Vx', '#ff0000', 'vx'], ['Vy', '#008000', 'vy'], ['Vz', '#0000ff', 'vz']], 'legend');
}
{
  const ax = tsPanel('plasma-beta-chart', 2306, [0, 5], [0, 1, 2, 3, 4, 5], '<tspan font-style="italic" font-family="DejaVu Serif, serif">β<tspan font-size="10" baseline-shift="-3">p</tspan></tspan> and <tspan font-style="italic" font-family="DejaVu Serif, serif">β</tspan>', 'Plasma Beta', 72);
  tsLine(ax, betaP, '#0000ff', 'series-beta-p');
  frame(ax);
  const lg = el('g', {}, ax.g, 'legend');
  box(lg, 1608, 2313, 68, 31, 'legend-box');
  el('line', {x1: 1617, x2: 1640, y1: 2327, y2: 2327, stroke: '#0000ff', 'stroke-width': 2}, lg, 'legend-line');
  txt(lg, 1654, 2332, '<tspan font-style="italic" font-family="DejaVu Serif, serif">β<tspan font-size="10" baseline-shift="-3">p</tspan></tspan>', 14, 'start', 'legend-entry-beta-p');
}
{
  const ax = tsPanel('proton-density-chart', 2642, [0, 40], [0, 5, 10, 15, 20, 25, 30, 35, 40], 'Np(#/cc)', 'Proton Number Density', 68);
  tsLine(ax, densNp, '#0000ff', 'series-np');
  frame(ax);
}
{
  const ax = tsPanel('proton-temperature-chart', 2980, [0, 0.5], [0, 0.1, 0.2, 0.3, 0.4, 0.5], 'Tp(10⁶K)', 'Proton Temperature and <tspan font-style="italic" font-family="DejaVu Serif, serif">T<tspan font-size="14" baseline-shift="-4">e</tspan>/T<tspan font-size="14" baseline-shift="-4">p</tspan></tspan>', 60);
  tsLine(ax, tempTp, '#0000ff', 'series-tp');
  frame(ax);
  const lg = el('g', {}, ax.g, 'legend');
  box(lg, 125, 2988, 72, 30, 'legend-box');
  el('line', {x1: 134, x2: 157, y1: 3003, y2: 3003, stroke: '#0000ff', 'stroke-width': 2}, lg, 'legend-line');
  txt(lg, 170, 3008, 'Tp', 14, 'start', 'legend-entry-tp');
}
</script>
</body></html>
